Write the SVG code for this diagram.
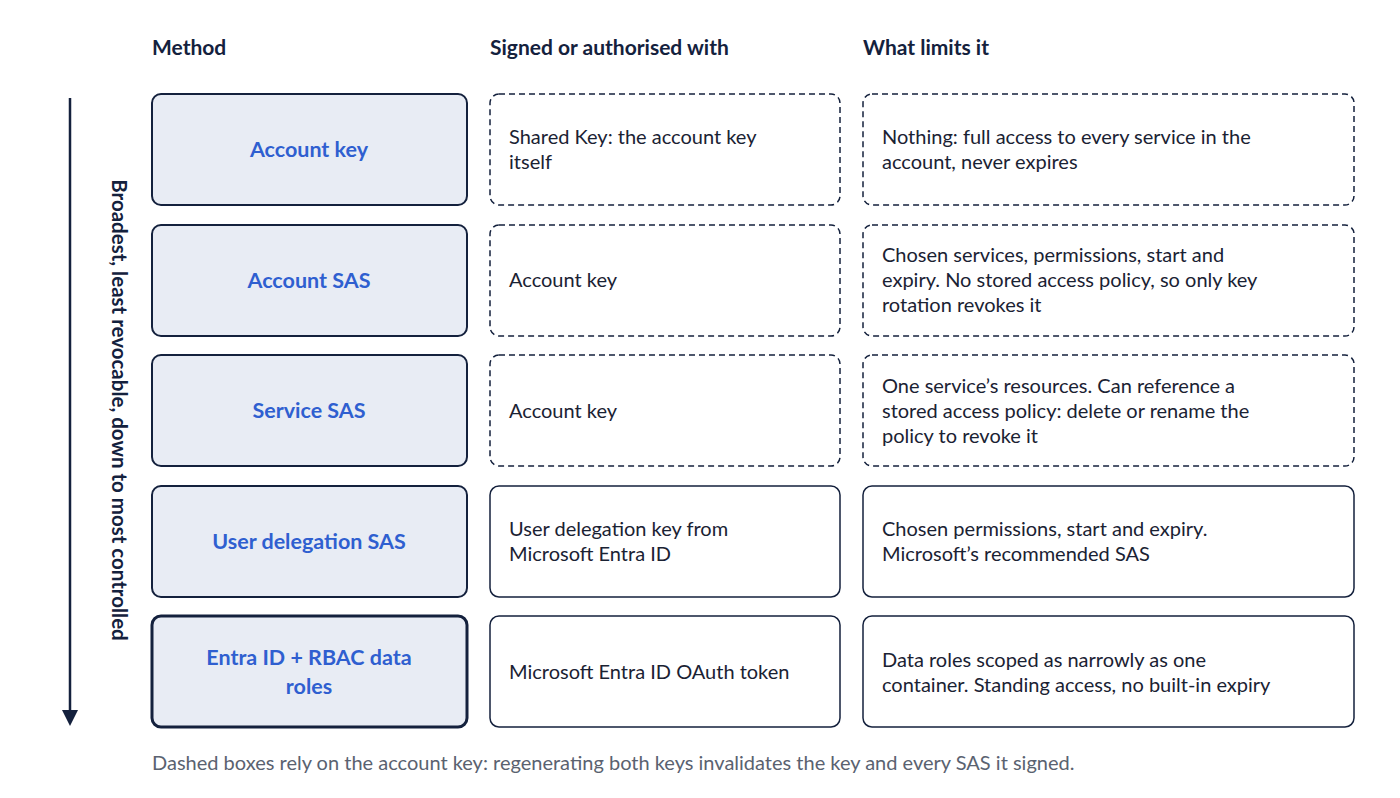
<svg xmlns="http://www.w3.org/2000/svg" width="1400" height="798" viewBox="0 0 1400 798">
<style>
text{font-family:Lato,"Liberation Sans",sans-serif}
.h{font-size:21px;font-weight:bold;fill:#14213d}
.m rect{fill:#e8ecf4;stroke:#14213d;stroke-width:2}
.m text{font-size:21.5px;font-weight:bold;fill:#2f5fd0;text-anchor:middle}
.d rect{fill:#fff;stroke:#14213d;stroke-width:1.5;stroke-dasharray:6 4}
.s rect{fill:#fff;stroke:#14213d;stroke-width:1.5}
.t{font-size:20px;fill:#1a2233}
.f{font-size:20px;fill:#5a6270}
</style>
<text class="h" x="152" y="55">Method</text>
<text class="h" x="490" y="55">Signed or authorised with</text>
<text class="h" x="863" y="55">What limits it</text>
<g id="connectors"><line x1="70" y1="98" x2="70" y2="714" stroke="#14213d" stroke-width="2.5"/><path d="M62,710 L78,710 L70,726 Z" fill="#14213d"/></g>
<text x="112" y="410" font-size="20.5" font-weight="bold" fill="#14213d" text-anchor="middle" transform="rotate(90 112 410)">Broadest, least revocable, down to most controlled</text>
<g id="m1" class="m"><rect x="152" y="94" width="315" height="111" rx="9"/><text x="309" y="157">Account key</text></g>
<g id="m2" class="m"><rect x="152" y="225" width="315" height="111" rx="9"/><text x="309" y="288">Account SAS</text></g>
<g id="m3" class="m"><rect x="152" y="355" width="315" height="111" rx="9"/><text x="309" y="418">Service SAS</text></g>
<g id="m4" class="m"><rect x="152" y="486" width="315" height="111" rx="9"/><text x="309" y="549">User delegation SAS</text></g>
<g id="m5" class="m"><rect x="152" y="616" width="315" height="111" rx="9" style="stroke-width:3"/><text x="309" y="665">Entra ID + RBAC data</text><text x="309" y="694">roles</text></g>
<g id="s1" class="d"><rect x="490" y="94" width="350" height="111" rx="9"/><text class="t" x="509" y="144">Shared Key: the account key</text><text class="t" x="509" y="169">itself</text></g>
<g id="s2" class="d"><rect x="490" y="225" width="350" height="111" rx="9"/><text class="t" x="509" y="287">Account key</text></g>
<g id="s3" class="d"><rect x="490" y="355" width="350" height="111" rx="9"/><text class="t" x="509" y="418">Account key</text></g>
<g id="s4" class="s"><rect x="490" y="486" width="350" height="111" rx="9"/><text class="t" x="509" y="536">User delegation key from</text><text class="t" x="509" y="561">Microsoft Entra ID</text></g>
<g id="s5" class="s"><rect x="490" y="616" width="350" height="111" rx="9"/><text class="t" x="509" y="679">Microsoft Entra ID OAuth token</text></g>
<g id="l1" class="d"><rect x="863" y="94" width="491" height="111" rx="9"/><text class="t" x="882" y="144">Nothing: full access to every service in the</text><text class="t" x="882" y="169">account, never expires</text></g>
<g id="l2" class="d"><rect x="863" y="225" width="491" height="111" rx="9"/><text class="t" x="882" y="262">Chosen services, permissions, start and</text><text class="t" x="882" y="287">expiry. No stored access policy, so only key</text><text class="t" x="882" y="312">rotation revokes it</text></g>
<g id="l3" class="d"><rect x="863" y="355" width="491" height="111" rx="9"/><text class="t" x="882" y="393">One service’s resources. Can reference a</text><text class="t" x="882" y="418">stored access policy: delete or rename the</text><text class="t" x="882" y="443">policy to revoke it</text></g>
<g id="l4" class="s"><rect x="863" y="486" width="491" height="111" rx="9"/><text class="t" x="882" y="536">Chosen permissions, start and expiry.</text><text class="t" x="882" y="561">Microsoft’s recommended SAS</text></g>
<g id="l5" class="s"><rect x="863" y="616" width="491" height="111" rx="9"/><text class="t" x="882" y="667">Data roles scoped as narrowly as one</text><text class="t" x="882" y="692">container. Standing access, no built-in expiry</text></g>
<text class="f" x="152" y="770">Dashed boxes rely on the account key: regenerating both keys invalidates the key and every SAS it signed.</text>
</svg>
